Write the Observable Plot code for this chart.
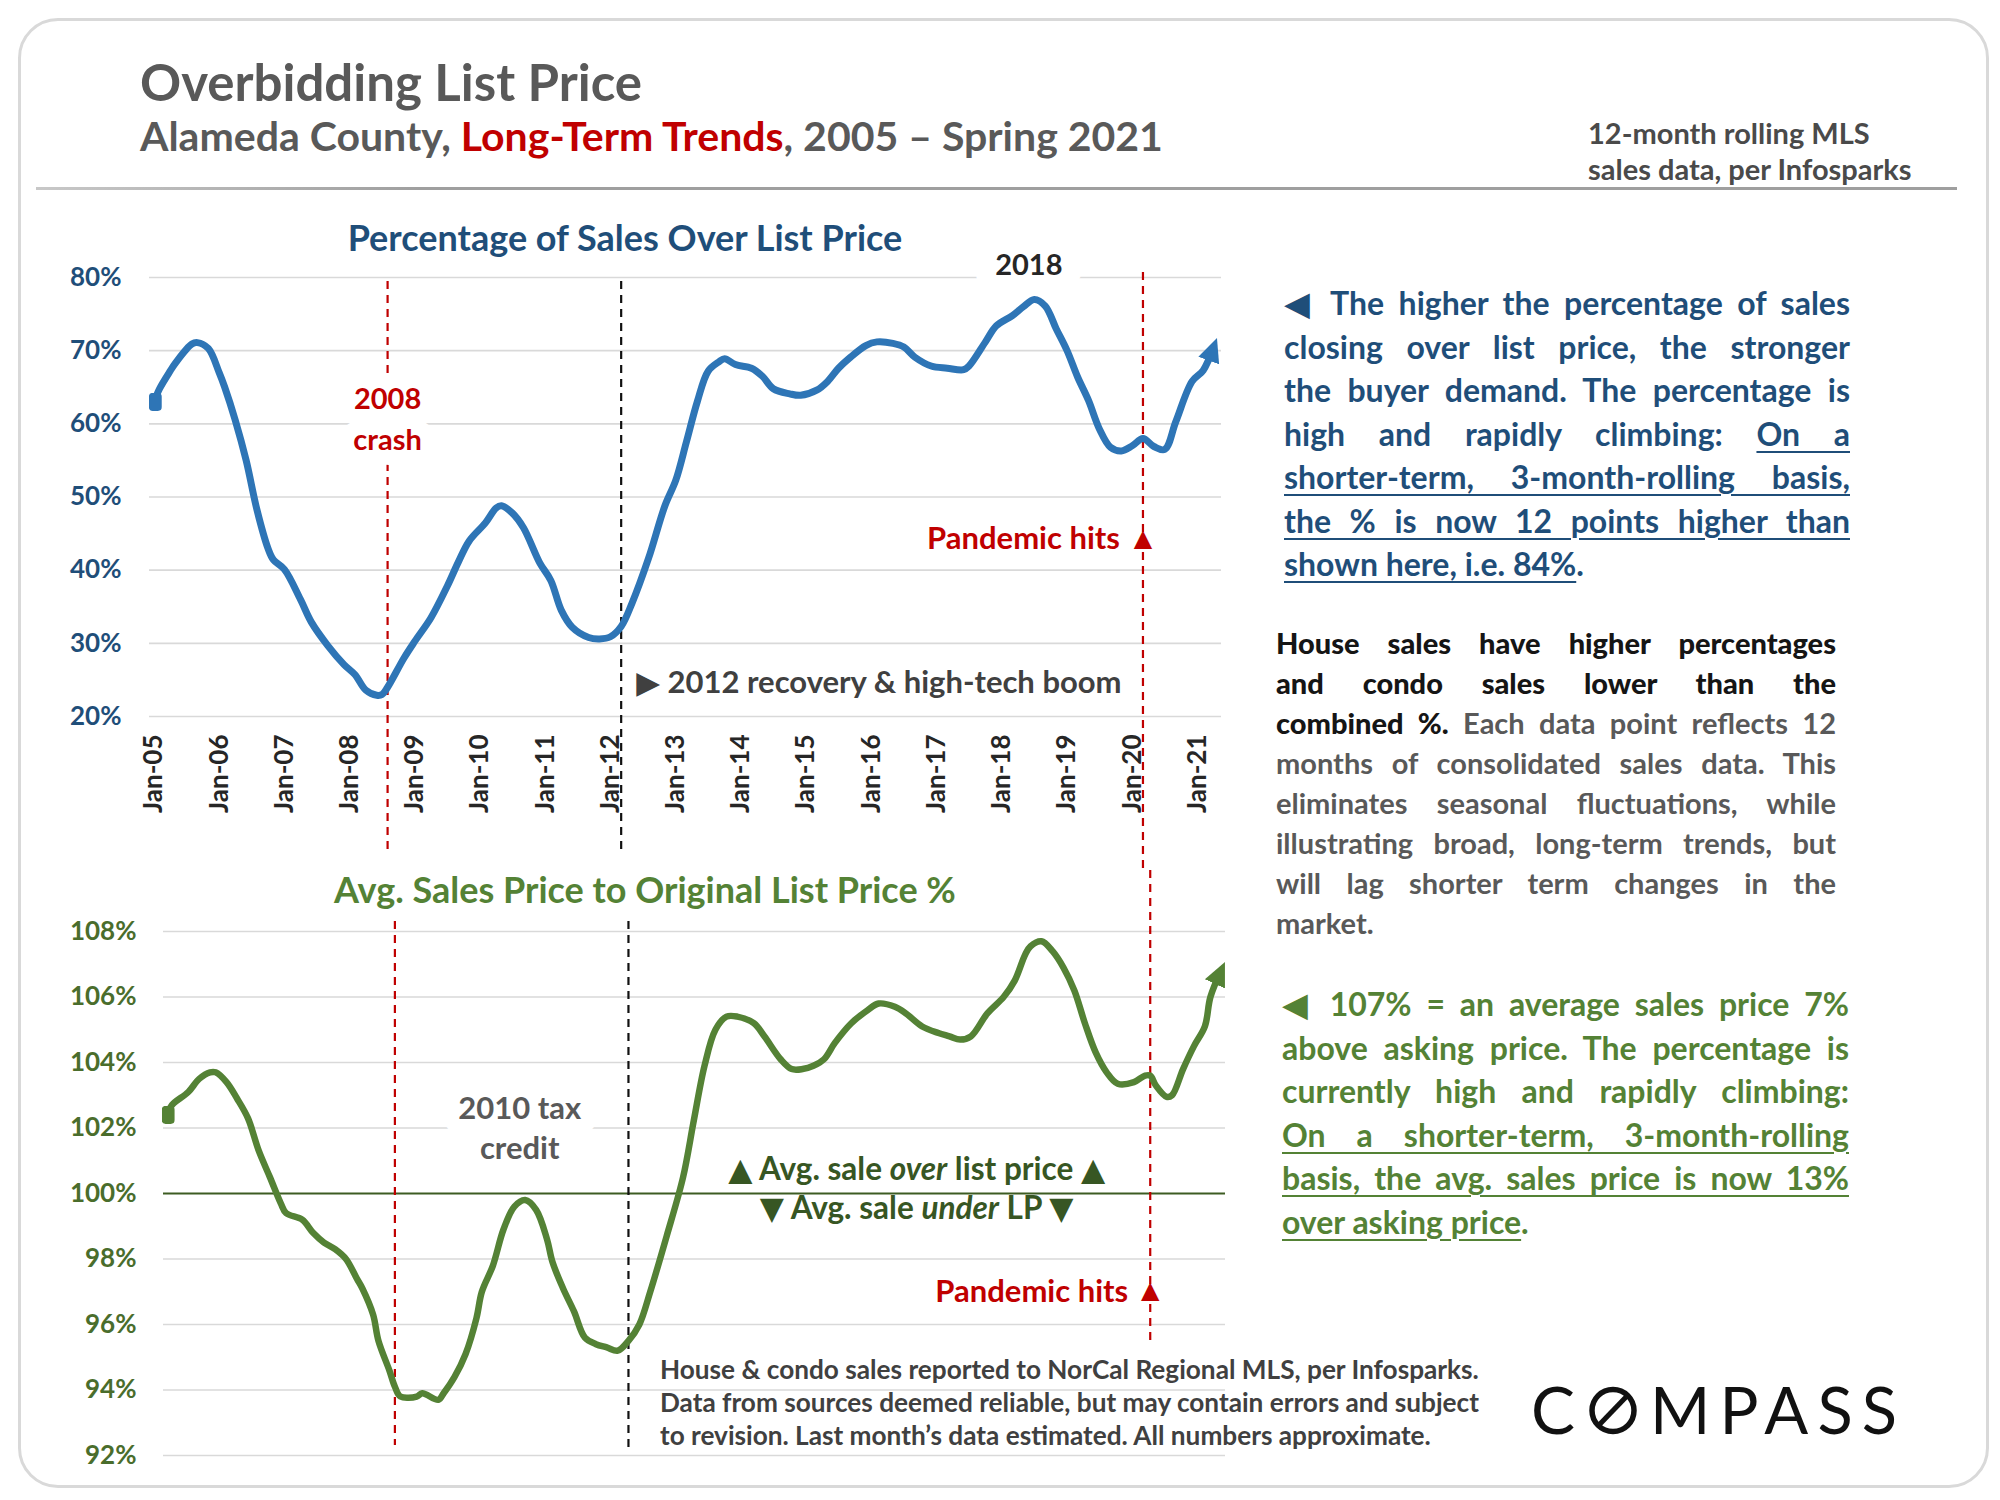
<!DOCTYPE html>
<html>
<head>
<meta charset="utf-8">
<script src="https://cdn.jsdelivr.net/npm/d3@7"></script>
<script src="https://cdn.jsdelivr.net/npm/@observablehq/plot@0.6"></script>
<style>
html, body { margin: 0; padding: 0; background: #fff; }
body { width: 2000px; height: 1500px; position: relative; overflow: hidden; font-family: Lato, "DejaVu Sans", sans-serif; }
.abs { position: absolute; white-space: nowrap; }
.frame { position: absolute; left: 18px; top: 18px; width: 1965px; height: 1464px; border: 3px solid #d9d9d9; border-radius: 40px; }
.sep { position: absolute; left: 36px; top: 187px; width: 1921px; height: 3px; background: linear-gradient(90deg, #c8c8c8, #9f9f9f 20%, #9f9f9f); }
.title { left: 140px; top: 51px; font-size: 51px; font-weight: 700; color: #595959; line-height: 1.2; }
.subtitle { left: 140px; top: 111px; font-size: 41px; font-weight: 700; color: #595959; line-height: 1.2; }
.subtitle span { color: #c00000; }
.note { left: 1588px; top: 115px; font-size: 29px; font-weight: 700; color: #4a4a4a; line-height: 36px; }
.ctitle { font-size: 36px; font-weight: 700; line-height: 1.2; transform: translateX(-50%); }
.blk { position: absolute; font-weight: 700; overflow: visible; }
.blk div { text-align: justify; text-align-last: justify; }
.blk div.last { text-align-last: left; }
.blk u { text-decoration-thickness: 2px; text-underline-offset: 5px; }
.tri { font-family: "DejaVu Sans", sans-serif; font-size: 1.05em; line-height: 0; }
#b1 { left: 1284px; top: 281px; width: 566px; font-size: 32px; line-height: 43.5px; color: #1f4e79; }
#b2 { left: 1276px; top: 623px; width: 560px; font-size: 29px; line-height: 40px; color: #595959; }
#b2 b { color: #151515; }
#b3 { left: 1282px; top: 982px; width: 567px; font-size: 32px; line-height: 43.5px; color: #548235; }
.foot { left: 660px; top: 1353px; font-size: 26.2px; font-weight: 700; color: #404040; line-height: 33px; }
#topChart, #botChart { position: absolute; left: 0; }
#topChart { top: 200px; }
#botChart { top: 870px; }
#topChart g[aria-label="x-axis tick label"], #topChart g[aria-label="x-axis"] { color: #262626; }
</style>
</head>
<body>
<div class="frame"></div>
<div class="abs title">Overbidding List Price</div>
<div class="abs subtitle">Alameda County, <span>Long-Term Trends</span>, 2005 – Spring 2021</div>
<div class="abs note">12-month rolling MLS<br>sales data, per Infosparks</div>
<div class="sep"></div>

<div id="topChart"></div>
<div id="botChart"></div>

<div class="abs ctitle" style="left:625px; top:216px; color:#1f4e79;">Percentage of Sales Over List Price</div>
<div class="abs ctitle" style="left:645px; top:868px; color:#548235;">Avg. Sales Price to Original List Price %</div>

<div class="blk" id="b1">
<div><span class="tri">◀</span> The higher the percentage of sales</div>
<div>closing over list price, the stronger</div>
<div>the buyer demand. The percentage is</div>
<div>high and rapidly climbing: <u>On a</u></div>
<div><u>shorter-term, 3-month-rolling basis,</u></div>
<div><u>the % is now 12 points higher than</u></div>
<div class="last"><u>shown here, i.e. 84%</u>.</div>
</div>

<div class="blk" id="b2">
<div><b>House sales have higher percentages</b></div>
<div><b>and condo sales lower than the</b></div>
<div><b>combined %.</b> Each data point reflects 12</div>
<div>months of consolidated sales data. This</div>
<div>eliminates seasonal fluctuations, while</div>
<div>illustrating broad, long-term trends, but</div>
<div>will lag shorter term changes in the</div>
<div class="last">market.</div>
</div>

<div class="blk" id="b3">
<div><span class="tri">◀</span> 107% = an average sales price 7%</div>
<div>above asking price. The percentage is</div>
<div>currently high and rapidly climbing:</div>
<div><u>On a shorter-term, 3-month-rolling</u></div>
<div><u>basis, the avg. sales price is now 13%</u></div>
<div class="last"><u>over asking price</u>.</div>
</div>

<div class="abs foot">House &amp; condo sales reported to NorCal Regional MLS, per Infosparks.<br>Data from sources deemed reliable, but may contain errors and subject<br>to revision. Last month’s data estimated. All numbers approximate.</div>

<svg class="abs" style="left:1530px; top:1381px; overflow:visible;" width="380" height="70">
  <text x="1" y="53" font-family="Lato" font-size="65" font-weight="400" fill="#111" textLength="44" lengthAdjust="spacingAndGlyphs">C</text>
  <circle cx="83" cy="29.5" r="21" fill="none" stroke="#111" stroke-width="5.5"/>
  <line x1="70" y1="43" x2="96" y2="16" stroke="#111" stroke-width="5"/>
  <text x="120" y="53" font-family="Lato" font-size="65" font-weight="400" fill="#111" textLength="247" lengthAdjust="spacing">MPASS</text>
</svg>

<script>
// ---------- DATA ----------
// Percentage of sales over list price (12-month rolling), readings by month
const overMonths = ["2005-01","2005-02","2005-04","2005-05","2005-08","2005-09","2005-11","2006-01","2006-02","2006-04","2006-06","2006-08","2006-10","2006-11","2007-01","2007-04","2007-06","2007-09","2007-12","2008-02","2008-04","2008-06","2008-07","2008-08","2008-11","2009-01","2009-04","2009-07","2009-09","2009-11","2010-02","2010-04","2010-05","2010-07","2010-09","2010-12","2011-02","2011-04","2011-06","2011-09","2011-11","2012-01","2012-03","2012-05","2012-08","2012-11","2013-01","2013-03","2013-05","2013-07","2013-09","2013-10","2013-12","2014-03","2014-05","2014-07","2014-10","2014-12","2015-03","2015-05","2015-07","2015-09","2015-12","2016-02","2016-05","2016-07","2016-09","2016-12","2017-03","2017-06","2017-07","2017-10","2017-12","2018-03","2018-05","2018-07","2018-09","2018-11","2019-01","2019-03","2019-05","2019-07","2019-09","2019-11","2020-01","2020-03","2020-05","2020-07","2020-09","2020-12","2021-02","2021-04"];
const overPct = [63,64.8,67.2,68.3,70.9,71.1,70.3,67,65,60.5,55,48.2,43,41.4,40.1,36,32.9,29.7,27.1,25.7,23.6,22.9,23,24,28,30.3,33.5,37.8,41.1,44,46.5,48.5,48.8,47.8,45.8,41,38.6,34.5,32.2,30.8,30.6,30.9,32.3,35.5,41.6,48.8,52.3,57.5,63,67.2,68.5,68.9,68.1,67.6,66.5,64.8,64.1,63.9,64.6,65.8,67.6,69,70.7,71.2,71,70.5,69.1,67.9,67.6,67.4,67.9,71.2,73.4,74.8,76,77,76.1,73,70,66.4,63.2,59.3,56.8,56.3,57,58,56.9,56.5,60.3,65.8,67.3,70.5];

// Avg. sales price to original list price %
const ratioMonths = ["2005-02","2005-03","2005-06","2005-08","2005-10","2005-11","2006-01","2006-03","2006-05","2006-07","2006-09","2006-11","2006-12","2007-03","2007-05","2007-07","2007-09","2007-11","2008-01","2008-02","2008-04","2008-05","2008-07","2008-08","2008-09","2008-12","2009-01","2009-04","2009-05","2009-07","2009-09","2009-11","2009-12","2010-02","2010-04","2010-06","2010-08","2010-10","2010-12","2011-01","2011-03","2011-05","2011-07","2011-09","2011-11","2012-01","2012-03","2012-05","2012-07","2012-10","2013-01","2013-03","2013-05","2013-07","2013-09","2013-11","2014-02","2014-04","2014-07","2014-09","2014-11","2015-01","2015-03","2015-05","2015-08","2015-11","2016-01","2016-04","2016-06","2016-09","2016-12","2017-02","2017-04","2017-06","2017-09","2017-12","2018-02","2018-04","2018-05","2018-07","2018-09","2018-11","2019-01","2019-03","2019-05","2019-07","2019-09","2019-12","2020-02","2020-03","2020-04","2020-06","2020-07","2020-09","2020-11","2021-01","2021-02","2021-04"];
const ratioPct = [102.4,102.7,103.1,103.5,103.7,103.7,103.4,102.9,102.3,101.3,100.5,99.7,99.4,99.2,98.8,98.5,98.3,98,97.4,97.1,96.3,95.5,94.6,94.1,93.8,93.8,93.9,93.7,93.9,94.4,95.1,96.2,97,97.8,98.9,99.6,99.8,99.5,98.6,97.9,97.1,96.4,95.6,95.4,95.3,95.2,95.5,96,97,98.7,100.5,102.2,103.9,105,105.4,105.4,105.2,104.8,104.1,103.8,103.8,103.9,104.1,104.6,105.2,105.6,105.8,105.7,105.5,105.1,104.9,104.8,104.7,104.8,105.5,106,106.5,107.3,107.55,107.7,107.4,106.9,106.2,105.2,104.3,103.7,103.35,103.4,103.6,103.6,103.3,102.95,103,103.8,104.5,105.1,106,106.8];

const tickYears = [2005,2006,2007,2008,2009,2010,2011,2012,2013,2014,2015,2016,2017,2018,2019,2020,2021];
const topYTicks = [20,30,40,50,60,70,80];
const botYTicks = [92,94,96,98,100,102,104,106,108];

// events
const crashMonth = "2008-08";
const recoveryMonth = "2012-03";
const pandemicMonth = "2020-03";

// annotations (anchor date, value)
const topNotes = [
  {month: "2008-08", value: 61.0, label: "2008\ncrash"},
  {month: "2018-06", value: 81.6, label: "2018"}
];
const recoveryNote = {month: "2012-03", value: 24.5, label: "▶ 2012 recovery & high-tech boom"};
const topPandemicNote = {month: "2020-03", value: 44.2, label: "Pandemic hits"};
const taxNote = {month: "2010-07", value: 102.05, label: "2010 tax\ncredit"};
const overNote = {month: "2016-08", value: 100.72, label: "▲ Avg. sale over list price ▲"};
const underNote = {month: "2016-08", value: 99.53, label: "▼ Avg. sale under LP ▼"};
const botPandemicNote = {month: "2020-03", value: 97.0, label: "Pandemic hits"};

// ---------- BUILD ----------
const parseMonth = d3.utcParse("%Y-%m");
const topData = overMonths.map((m, i) => ({date: parseMonth(m), value: overPct[i]}));
const botData = ratioMonths.map((m, i) => ({date: parseMonth(m), value: ratioPct[i]}));
const xTicks = tickYears.map(y => new Date(Date.UTC(y, 0, 1)));
const monthToDate = m => new Date(Date.UTC(2005, 0, 1) + m * 30.436875 * 864e5);
const withDate = o => ({...o, date: parseMonth(o.month)});

const RED = "#c00000", BLUE = "#2e75b6", GREEN = "#548235";
const FONT = "Lato, 'DejaVu Sans', sans-serif";

const topPlot = Plot.plot({
  width: 1250, height: 670,
  marginTop: 77, marginBottom: 154, marginLeft: 149, marginRight: 29,
  style: {background: "none", fontFamily: FONT, fontSize: "26px", fontWeight: "700", color: "#1f4e79", overflow: "visible"},
  x: {type: "utc", domain: [monthToDate(-0.83), monthToDate(196.4)], ticks: xTicks,
      tickFormat: d => "Jan-" + String(d.getUTCFullYear()).slice(2),
      tickRotate: -90, tickSize: 0, tickPadding: 18, label: null},
  y: {domain: [20, 80], ticks: topYTicks, tickFormat: d => d + "%", tickSize: 0, tickPadding: 28, label: null},
  marks: [
    Plot.ruleY(topYTicks, {stroke: "#d9d9d9", strokeWidth: 1.6}),
    Plot.ruleX([parseMonth(crashMonth)], {stroke: RED, strokeWidth: 2.2, strokeDasharray: "8,6", insetTop: 4, insetBottom: -138}),
    Plot.ruleX([parseMonth(recoveryMonth)], {stroke: "#111", strokeWidth: 2.2, strokeDasharray: "8,6", insetTop: 4, insetBottom: -138}),
    Plot.ruleX([parseMonth(pandemicMonth)], {stroke: RED, strokeWidth: 2.2, strokeDasharray: "8,6", insetTop: -5, insetBottom: -154}),
    Plot.text([withDate(topNotes[0])], {x: "date", y: "value", text: "label", fill: RED, fontSize: 29, fontWeight: 700, lineHeight: 1.4,
      stroke: "white", strokeWidth: 30, strokeLinejoin: "round", paintOrder: "stroke"}),
    Plot.text([withDate(topNotes[1])], {x: "date", y: "value", text: "label", fill: "#262626", fontSize: 29, fontWeight: 700,
      stroke: "white", strokeWidth: 40, strokeLinejoin: "round", paintOrder: "stroke"}),
    Plot.text([withDate(recoveryNote)], {x: "date", y: "value", text: "label", fill: "#404040", fontSize: 31, fontWeight: 700, textAnchor: "start", dx: 15}),
    Plot.text([withDate(topPandemicNote)], {x: "date", y: "value", text: "label", fill: RED, fontSize: 31, fontWeight: 700, textAnchor: "end", dx: -23}),
    Plot.text([withDate(topPandemicNote)], {x: "date", y: "value", text: () => "▲", fill: RED, fontSize: 24, fontFamily: "DejaVu Sans", dy: -1}),
    Plot.line(topData, {x: "date", y: "value", stroke: BLUE, strokeWidth: 7, curve: "catmull-rom", strokeLinejoin: "round", strokeLinecap: "butt"})
  ]
});

const botPlot = Plot.plot({
  width: 1250, height: 600,
  marginTop: 61, marginBottom: 15, marginLeft: 163, marginRight: 25,
  style: {background: "none", fontFamily: FONT, fontSize: "26px", fontWeight: "700", color: "#4a6d2c", overflow: "visible"},
  x: {type: "utc", domain: [monthToDate(0.4), monthToDate(195.8)], axis: null, label: null},
  y: {domain: [92, 108], ticks: botYTicks, tickFormat: d => d + "%", tickSize: 0, tickPadding: 27, label: null},
  marks: [
    Plot.ruleY(botYTicks.filter(d => d !== 100), {stroke: "#d9d9d9", strokeWidth: 1.6}),
    Plot.ruleY([100], {stroke: "#3d5c22", strokeWidth: 1.8}),
    Plot.ruleX([parseMonth(crashMonth)], {stroke: RED, strokeWidth: 2.2, strokeDasharray: "8,6", insetTop: -10, insetBottom: 10}),
    Plot.ruleX([parseMonth(recoveryMonth)], {stroke: "#111", strokeWidth: 2.2, strokeDasharray: "8,6", insetTop: -10, insetBottom: 8}),
    Plot.ruleX([parseMonth(pandemicMonth)], {stroke: RED, strokeWidth: 2.2, strokeDasharray: "8,6", insetTop: -61, insetBottom: 115}),
    Plot.text([withDate(taxNote)], {x: "date", y: "value", text: "label", fill: "#595959", fontSize: 31, fontWeight: 700, lineHeight: 1.3,
      stroke: "white", strokeWidth: 30, strokeLinejoin: "round", paintOrder: "stroke"}),
    Plot.text([withDate(overNote)], {x: "date", y: "value", text: "label", fill: "#375623", fontSize: 31.5, fontWeight: 700}),
    Plot.text([withDate(underNote)], {x: "date", y: "value", text: "label", fill: "#375623", fontSize: 31.5, fontWeight: 700}),
    Plot.text([withDate(botPandemicNote)], {x: "date", y: "value", text: "label", fill: RED, fontSize: 31, fontWeight: 700, textAnchor: "end", dx: -22}),
    Plot.text([withDate(botPandemicNote)], {x: "date", y: "value", text: () => "▲", fill: RED, fontSize: 24, fontFamily: "DejaVu Sans", dy: -1}),
    Plot.line(botData, {x: "date", y: "value", stroke: GREEN, strokeWidth: 6.5, curve: "catmull-rom", strokeLinejoin: "round", strokeLinecap: "butt"})
  ]
});

// arrowhead and start markers on the series line
function decorate(svg, color, id) {
  const ns = "http://www.w3.org/2000/svg";
  const defs = document.createElementNS(ns, "defs");
  defs.innerHTML =
    `<marker id="${id}-end" viewBox="0 0 10 10" refX="6" refY="5" markerUnits="userSpaceOnUse" markerWidth="24" markerHeight="24" orient="auto">
       <path d="M0,0.4L10,5L0,9.6Z" fill="${color}"/></marker>
     <marker id="${id}-start" viewBox="0 0 10 14" refX="4" refY="7" markerUnits="userSpaceOnUse" markerWidth="13" markerHeight="18" orient="0">
       <rect x="0" y="0" width="10" height="14" rx="3" fill="${color}"/></marker>`;
  svg.insertBefore(defs, svg.firstChild);
  const path = svg.querySelector('g[aria-label="line"] path');
  if (path) {
    path.setAttribute("marker-end", `url(#${id}-end)`);
    path.setAttribute("marker-start", `url(#${id}-start)`);
  }
}
decorate(topPlot, BLUE, "blue");
decorate(botPlot, GREEN, "green");

// italic words in the over/under annotations
botPlot.querySelectorAll("text").forEach(t => {
  if (t.textContent === overNote.label) t.innerHTML = '▲ Avg. sale <tspan font-style="italic">over</tspan> list price ▲';
  if (t.textContent === underNote.label) t.innerHTML = '▼ Avg. sale <tspan font-style="italic">under</tspan> LP ▼';
});

document.getElementById("topChart").append(topPlot);
document.getElementById("botChart").append(botPlot);
</script>
</body>
</html>
